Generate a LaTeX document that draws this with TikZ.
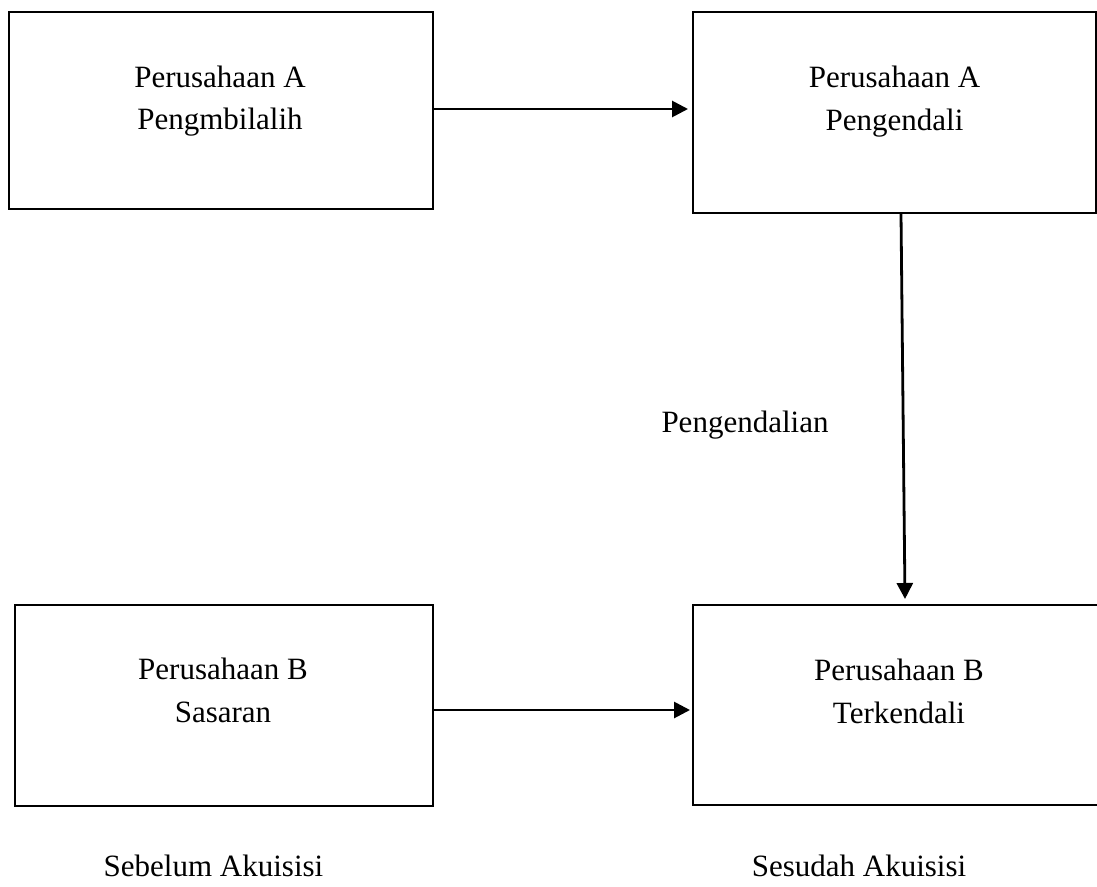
\documentclass[tikz,border=0pt]{standalone}
\usepackage{fontspec}
\setmainfont{Liberation Serif}
\usetikzlibrary{arrows.meta}
\begin{document}
\begin{tikzpicture}[x=1pt,y=-1pt,
  box/.style={draw, line width=1.6pt, inner sep=0pt, rectangle},
  lbl/.style={anchor=base, inner sep=0pt, font=\fontsize{31}{42}\selectfont},
  arr/.style={line width=2.8pt, -{Triangle[length=16pt,width=16pt]}}]
\useasboundingbox (0,0) rectangle (1097,886);
\clip (0,0) rectangle (1097,886);
% boxes
\node[box, minimum width=424pt, minimum height=197pt] (A1) at (221,110.5) {};
\node[box, minimum width=403pt, minimum height=201pt] (A2) at (894.5,112.5) {};
\node[box, minimum width=418pt, minimum height=201pt] (B1) at (224,705.5) {};
\node[box, minimum width=412pt, minimum height=200pt] (B2) at (899,705) {};
% texts
\node[lbl] (A1a) at (220,87) {Perusahaan A};
\node[lbl] (A1b) at (220,129) {Pengmbilalih};
\node[lbl] (A2a) at (894.5,87) {Perusahaan A};
\node[lbl] (A2b) at (894.5,130) {Pengendali};
\node[lbl] (B1a) at (223,679) {Perusahaan B};
\node[lbl] (B1b) at (223,722) {Sasaran};
\node[lbl] (B2a) at (899,680) {Perusahaan B};
\node[lbl] (B2b) at (899,723) {Terkendali};
\node[lbl] (ctl) at (745,432) {Pengendalian};
\node[lbl] (before) at (213.5,876) {Sebelum Akuisisi};
\node[lbl] (after) at (859,876) {Sesudah Akuisisi};
% connectors
\coordinate (a1r) at (A1.east |- 0,109);
\coordinate (a2l) at (688,109);
\draw[arr] (a1r) -- (a2l);
\coordinate (a2b) at (901,214);
\coordinate (b2t) at (905,599);
\draw[arr] (a2b) -- (b2t);
\coordinate (b1r) at (B1.east |- 0,710);
\coordinate (b2l) at (690,710);
\draw[arr] (b1r) -- (b2l);
\end{tikzpicture}
\end{document}
